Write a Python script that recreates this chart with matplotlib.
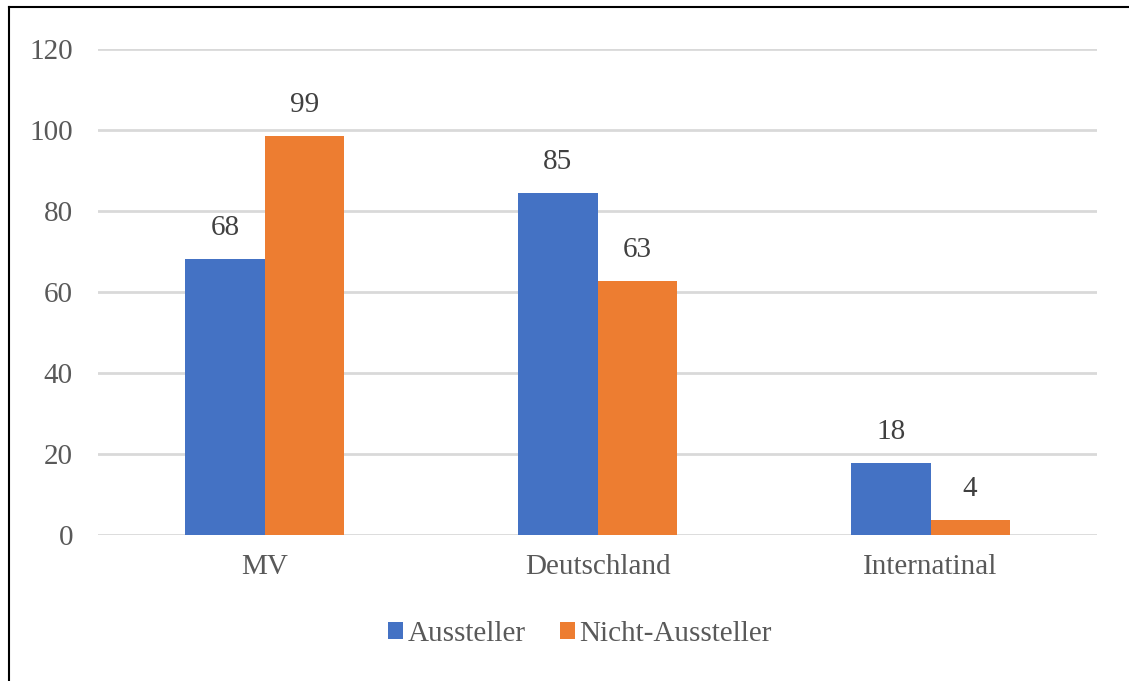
import matplotlib
matplotlib.use('Agg')
import matplotlib.pyplot as plt
from matplotlib.lines import Line2D
import numpy as np

categories = ['MV', 'Deutschland', 'Internatinal']
aussteller = [68.2, 84.5, 17.8]
nicht_aussteller = [98.6, 62.7, 3.7]
labels_a = ['68', '85', '18']
labels_n = ['99', '63', '4']

plt.rcParams['font.family'] = ['Liberation Serif', 'DejaVu Serif']

blue = '#4472c4'
orange = '#ed7d31'
gray = '#595959'

fig = plt.figure(figsize=(11.29, 6.81), dpi=100)
ax = fig.add_axes([0.0868, 0.2144, 0.8849, 0.7136])

x = np.arange(len(categories))
w = 0.238
b1 = ax.bar(x - w / 2, aussteller, w, color=blue, label='Aussteller', zorder=3)
b2 = ax.bar(x + w / 2, nicht_aussteller, w, color=orange, label='Nicht-Aussteller', zorder=3)

for bars, labs in [(b1, labels_a), (b2, labels_n)]:
    for rect, lab in zip(bars, labs):
        ax.annotate(lab, (rect.get_x() + rect.get_width() / 2, rect.get_height()),
                    xytext=(0, 13), textcoords='offset points', ha='center', va='bottom',
                    fontsize=21, color='#404040')

ax.set_xlim(-0.5, 2.5)
ax.set_ylim(0, 120)
ax.set_yticks(range(0, 121, 20))
ax.set_xticks(x)
ax.set_xticklabels(categories)
ax.yaxis.grid(True, color='#d9d9d9', linewidth=2, zorder=0)
ax.tick_params(axis='both', length=0, labelsize=21, labelcolor=gray)
ax.tick_params(axis='y', pad=18)
ax.tick_params(axis='x', pad=14)
for s in ax.spines.values():
    s.set_visible(False)

ax.legend(loc='center', bbox_to_anchor=(580 / 1129, 1 - 634 / 681), bbox_transform=fig.transFigure,
          ncol=2, frameon=False, fontsize=21, labelcolor=gray, handlelength=0.5, handleheight=0.5,
          handletextpad=0.15, columnspacing=1.2)

# frame lines on the left and top
fig.add_artist(Line2D([8.5 / 1129, 8.5 / 1129], [0, 1 - 7 / 681], transform=fig.transFigure,
                      color='black', linewidth=1.5))
fig.add_artist(Line2D([8.5 / 1129, 1], [1 - 7 / 681, 1 - 7 / 681], transform=fig.transFigure,
                      color='black', linewidth=1.5))

fig.savefig('out.png', dpi=100)
